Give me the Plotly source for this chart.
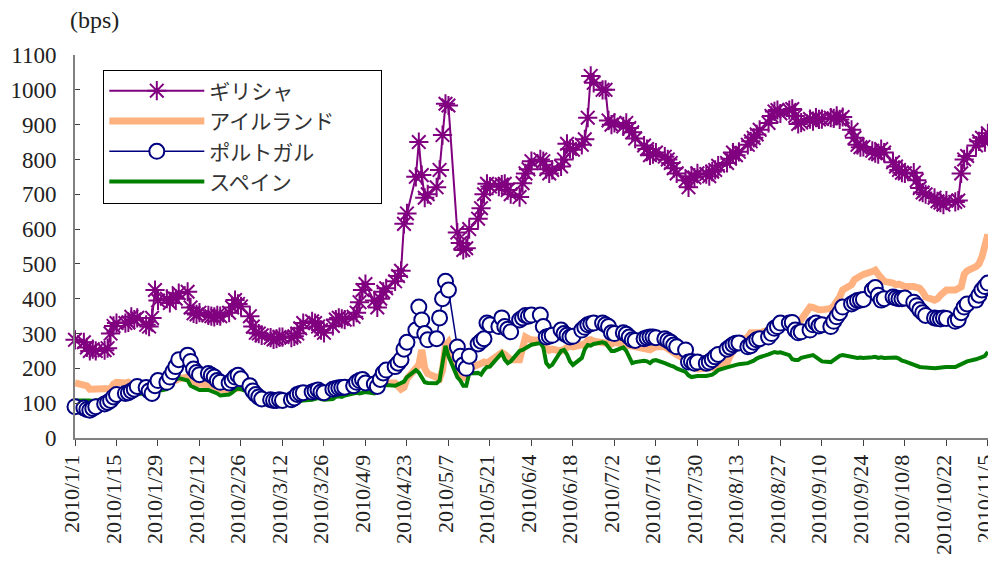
import pandas as pd
import plotly.graph_objects as go

# business days 2010/1/1 .. 2010/11/5
dates = pd.bdate_range("2010-01-01", "2010-11-05")

greece = [282,
    275, 260, 250, 255, 250, 252, 258, 300, 322, 330,
    330, 332, 348, 340, 345, 325, 320, 345, 425, 395,
    400, 388, 405, 400, 416, 420, 375, 358, 355, 360,
    352, 350, 348, 352, 350, 360, 375, 396, 385, 378,
    350, 320, 302, 300, 295, 288, 283, 285, 290, 290,
    288, 292, 300, 315, 330, 335, 330, 320, 310, 302,
    322, 340, 345, 342, 340, 348, 360, 390, 425, 442,
    395, 375, 400, 420, 430, 450, 465, 480, 615, 645,
    750, 850, 755, 690, 700, 720, 770, 870, 960, 955,
    590, 560, 540, 545, 600, 630, 660, 700, 730, 722,
    722, 728, 730, 712, 700, 692, 732, 760, 772, 795,
    800, 795, 772, 760, 770, 780, 800, 845, 830, 828,
    842, 858, 920, 1040, 1020, 1000, 1000, 912, 900, 905,
    895, 905, 890, 878, 860, 840, 830, 812, 815, 820,
    808, 800, 790, 775, 760, 740, 720, 752, 748, 760,
    758, 752, 765, 770, 782, 790, 802, 820, 812, 822,
    842, 852, 862, 872, 885, 905, 925, 938, 942, 932,
    942, 945, 925, 902, 906, 916, 910, 920, 915, 916,
    920, 918, 925, 915, 922, 885, 862, 842, 835, 836,
    825, 818, 815, 830, 820, 792, 780, 770, 762, 760,
    762, 740, 718, 705, 700, 690, 680, 676, 670, 682,
    678, 682, 760, 800, 810, 840, 852, 862, 850, 875]

ireland = [158,
    155, 150, 140, 140, 138, 138, 140, 142, 155, 160,
    158, 160, 155, 150, 150, 148, 150, 152, 155, 158,
    160, 158, 162, 165, 170, 175, 168, 160, 155, 155,
    155, 152, 148, 145, 140, 138, 140, 145, 148, 145,
    140, 130, 120, 115, 112, 110, 108, 106, 105, 105,
    105, 106, 108, 112, 118, 120, 125, 128, 128, 125,
    130, 135, 138, 140, 142, 145, 148, 150, 148, 150,
    148, 145, 150, 155, 158, 158, 150, 140, 145, 170,
    200, 210, 253, 200, 185, 175, 170, 195, 265, 275,
    195, 180, 175, 190, 200, 210, 215, 218, 215, 220,
    240, 245, 240, 235, 225, 225, 262, 290, 285, 282,
    280, 270, 255, 252, 255, 250, 255, 262, 265, 262,
    265, 270, 280, 282, 278, 275, 273, 268, 270, 275,
    270, 265, 262, 260, 261, 258, 256, 253, 258, 262,
    262, 255, 250, 245, 240, 225, 215, 205, 200, 198,
    198, 200, 200, 202, 205, 215, 235, 250, 265, 280,
    290, 302, 302, 300, 302, 310, 320, 330, 332, 330,
    330, 328, 318, 325, 340, 376, 375, 370, 368, 368,
    372, 380, 392, 405, 425, 440, 455, 462, 465, 470,
    478, 482, 470, 462, 450, 445, 440, 442, 440, 435,
    435, 434, 430, 420, 405, 396, 400, 410, 418, 425,
    425, 428, 434, 470, 480, 492, 500, 520, 560, 585]

portugal = [90,
    86, 82, 80, 85, 90, 98, 102, 108, 118, 125,
    128, 130, 135, 140, 148, 145, 135, 128, 150, 165,
    160, 175, 190, 205, 225, 238, 220, 198, 188, 182,
    185, 180, 175, 165, 160, 158, 165, 175, 180, 170,
    150, 135, 125, 118, 112, 110, 108, 108, 110, 108,
    110, 115, 125, 128, 130, 132, 135, 138, 132, 130,
    140, 142, 144, 145, 146, 150, 160, 165, 168, 158,
    155, 148, 168, 187, 195, 205, 215, 225, 255, 275,
    310, 376, 339, 300, 282, 285, 345, 400, 450, 425,
    261, 235, 210, 200, 235, 270, 278, 285, 330, 325,
    320, 345, 320, 312, 305, 339, 345, 352, 350, 353,
    353, 320, 290, 292, 295, 310, 300, 295, 290, 292,
    310, 318, 325, 328, 330, 330, 325, 320, 302, 300,
    302, 298, 290, 282, 280, 285, 288, 290, 290, 288,
    285, 280, 275, 267, 262, 253, 218, 220, 215, 218,
    215, 218, 225, 233, 240, 255, 261, 268, 272, 273,
    262, 265, 275, 282, 285, 290, 300, 315, 320, 330,
    330, 332, 310, 302, 305, 310, 325, 330, 322, 325,
    320, 335, 348, 360, 376, 385, 390, 395, 396, 398,
    425, 432, 410, 396, 400, 405, 402, 400, 400, 402,
    390, 380, 368, 360, 352, 345, 343, 342, 345, 343,
    335, 340, 360, 376, 385, 396, 410, 425, 435, 445]

spain = [108,
    108, 110, 108, 106, 108, 110, 115, 118, 120, 122,
    125, 126, 128, 125, 128, 126, 115, 125, 130, 135,
    140, 150, 160, 168, 172, 165, 150, 145, 140, 138,
    138, 135, 132, 128, 122, 125, 130, 138, 142, 140,
    130, 115, 108, 105, 100, 98, 96, 95, 96, 98,
    98, 100, 102, 104, 108, 110, 112, 115, 112, 110,
    112, 118, 120, 118, 122, 128, 130, 128, 130, 132,
    128, 138, 145, 150, 152, 150, 155, 158, 162, 175,
    195, 188, 172, 160, 158, 157, 165, 215, 265, 235,
    175, 165, 150, 150, 185, 187, 182, 195, 204, 205,
    235, 244, 225, 215, 220, 250, 253, 258, 262, 268,
    273, 260, 215, 205, 210, 250, 253, 240, 220, 210,
    230, 255, 267, 265, 270, 275, 272, 262, 250, 250,
    260, 250, 235, 215, 218, 222, 220, 215, 222, 224,
    215, 210, 208, 205, 200, 190, 180, 175, 176, 178,
    178, 180, 182, 188, 195, 203, 205, 208, 210, 212,
    215, 218, 222, 228, 232, 240, 245, 247, 245, 246,
    238, 226, 224, 224, 230, 238, 238, 232, 226, 220,
    218, 225, 232, 236, 238, 233, 232, 230, 231, 230,
    232, 233, 230, 232, 230, 230, 231, 228, 222, 220,
    210, 206, 204, 203, 202, 200, 201, 201, 203, 204,
    204, 208, 212, 216, 220, 226, 228, 232, 236, 247]

tick_dates = ["2010-01-01", "2010-01-15", "2010-01-29", "2010-02-12", "2010-02-26",
              "2010-03-12", "2010-03-26", "2010-04-09", "2010-04-23", "2010-05-07",
              "2010-05-21", "2010-06-04", "2010-06-18", "2010-07-02", "2010-07-16",
              "2010-07-30", "2010-08-13", "2010-08-27", "2010-09-10", "2010-09-24",
              "2010-10-08", "2010-10-22", "2010-11-05"]
tick_labels = ["2010/1/1", "2010/1/15", "2010/1/29", "2010/2/12", "2010/2/26",
               "2010/3/12", "2010/3/26", "2010/4/9", "2010/4/23", "2010/5/7",
               "2010/5/21", "2010/6/4", "2010/6/18", "2010/7/2", "2010/7/16",
               "2010/7/30", "2010/8/13", "2010/8/27", "2010/9/10", "2010/9/24",
               "2010/10/8", "2010/10/22", "2010/11/5"]
y_ticks = list(range(0, 1101, 100))

FONT = "Liberation Serif, Noto Sans CJK JP, serif"
PAD = "\u3000\u3000"  # blank room at the right of the legend box

fig = go.Figure()
fig.add_trace(go.Scatter(x=dates, y=ireland, name="アイルランド" + PAD, mode="lines",
                         line=dict(color="#FFB27F", width=7), legendrank=2,
                         cliponaxis=False))
fig.add_trace(go.Scatter(x=dates, y=spain, name="スペイン", mode="lines",
                         line=dict(color="#008000", width=4), legendrank=4,
                         cliponaxis=False))
fig.add_trace(go.Scatter(x=dates, y=portugal, name="ポルトガル", mode="lines+markers",
                         line=dict(color="#000080", width=1.5),
                         marker=dict(symbol="circle", size=15, color="white",
                                     line=dict(color="#000080", width=2)),
                         legendrank=3, cliponaxis=False))
fig.add_trace(go.Scatter(x=dates, y=greece, name="ギリシャ", mode="lines+markers",
                         line=dict(color="#800080", width=2),
                         marker=dict(symbol="asterisk-open", size=16,
                                     line=dict(color="#800080", width=2)),
                         legendrank=1, cliponaxis=False))

# the page body has an 8px margin: the figure is sized and placed to compensate
fig.update_layout(
    width=988, height=568,
    margin=dict(l=67, r=8, t=47, b=138),
    paper_bgcolor="white", plot_bgcolor="white",
    font=dict(family=FONT, size=22, color="#222222"),
    showlegend=True,
    legend=dict(x=0.031, y=0.962, xanchor="left", yanchor="top",
                bordercolor="black", borderwidth=1, bgcolor="white",
                itemwidth=95, tracegroupgap=0,
                font=dict(family="Noto Sans CJK JP", size=21, color="#333333")),
    xaxis=dict(type="date", range=["2010-01-01", "2010-11-05 01:00"],
               tickvals=tick_dates, ticktext=tick_labels, tickangle=-90,
               ticklabeloverflow="allow", ticklabelshift=-3,
               showgrid=False, zeroline=False, showline=True,
               linecolor="#808080", linewidth=2, automargin=False,
               ticks="outside", ticklen=6, tickcolor="#404040",
               tickfont=dict(family=FONT, size=22, color="#222222")),
    yaxis=dict(range=[0, 1100], tickvals=y_ticks,
               showgrid=False, zeroline=False, showline=True,
               linecolor="#808080", linewidth=2, automargin=False,
               ticks="inside", ticklen=5, tickcolor="#404040",
               ticklabelstandoff=12,
               tickfont=dict(family=FONT, size=23, color="#222222")),
    annotations=[dict(text="(bps)", xref="paper", yref="paper",
                      x=-0.008, y=1.0, xanchor="left", yanchor="middle", yshift=35,
                      showarrow=False,
                      font=dict(family=FONT, size=24, color="#222222"))],
)

fig.write_html("out.html")
